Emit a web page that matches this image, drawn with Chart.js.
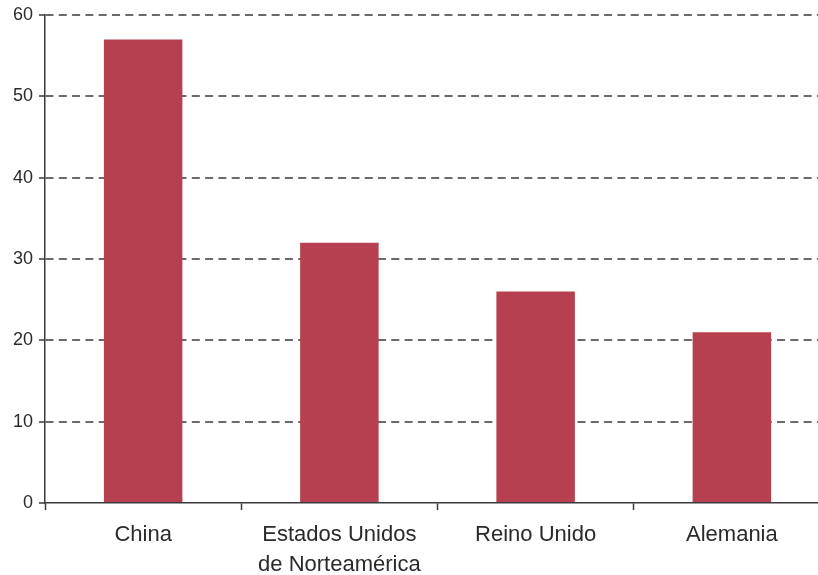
<!DOCTYPE html>
<html>
<head>
<meta charset="utf-8">
<script src="https://cdn.jsdelivr.net/npm/chart.js@4/dist/chart.umd.min.js"></script>
<style>
  html, body { margin: 0; padding: 0; background: #fff; overflow: hidden; }
  #wrap { width: 830px; height: 575px; position: relative; }
</style>
</head>
<body>
<div id="wrap"><canvas id="c"></canvas></div>
<script>
// Categories (multi-line labels as arrays)
const categories = ['China', ['Estados Unidos', 'de Norteamérica'], 'Reino Unido', 'Alemania'];
// Values per country
const values = [57, 32, 26, 21];
// Y axis range and step
const yMin = 0;
const yMax = 60;
const yStep = 10;

const barColor = '#B6404F';
const axisColor = '#3a3a3a';
const gridColor = '#6a6a6a';
const textColor = '#2a2a2a';
const fontFamily = '"Liberation Sans", Arial, Helvetica, sans-serif';

new Chart(document.getElementById('c'), {
  type: 'bar',
  data: {
    labels: categories,
    datasets: [{
      data: values,
      backgroundColor: barColor,
      borderWidth: 0,
      barPercentage: 0.4,
      categoryPercentage: 1.0
    }]
  },
  options: {
    responsive: true,
    maintainAspectRatio: false,
    animation: false,
    layout: { padding: { top: 14, right: 0, bottom: 0, left: 0 } },
    plugins: {
      legend: { display: false },
      tooltip: { enabled: false }
    },
    scales: {
      x: {
        grid: {
          offset: true,
          drawOnChartArea: false,
          drawTicks: true,
          tickLength: 7,
          tickColor: axisColor,
          tickWidth: 1.5
        },
        border: { display: true, color: axisColor, width: 1.5 },
        ticks: {
          color: textColor,
          padding: 10,
          maxRotation: 0,
          autoSkip: false,
          font: { family: fontFamily, size: 22, lineHeight: 1.36 }
        },
        afterFit: (scale) => { scale.height = 72; }
      },
      y: {
        min: yMin,
        max: yMax,
        grid: {
          color: (ctx) => (ctx.tick && ctx.tick.value === 0 ? 'rgba(0,0,0,0)' : gridColor),
          lineWidth: 2,
          drawTicks: true,
          tickLength: 6,
          tickColor: axisColor,
          tickWidth: 1.5
        },
        border: { display: true, color: axisColor, width: 1.5, dash: [8, 5.3] },
        ticks: {
          stepSize: yStep,
          color: textColor,
          padding: 6,
          font: { family: fontFamily, size: 18, lineHeight: 1.0 }
        },
        afterFit: (scale) => { scale.width = 45; }
      }
    }
  }
});
</script>
</body>
</html>
